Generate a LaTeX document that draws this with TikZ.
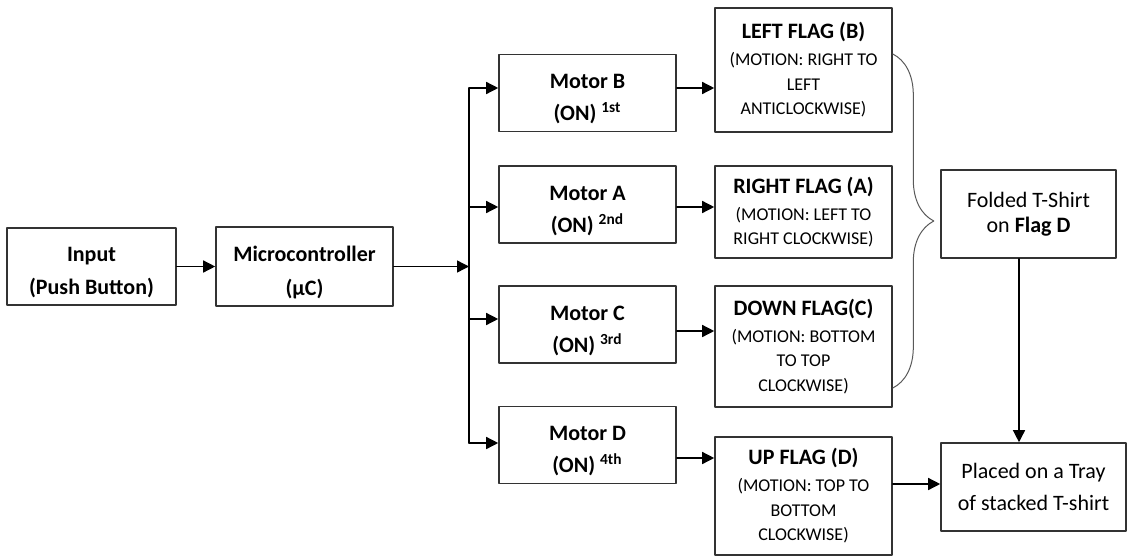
\documentclass[tikz,border=0pt]{standalone}
\usepackage{fontspec}
\setmainfont{Carlito}
\usepackage{pgf,tikz}
\usetikzlibrary{arrows.meta}
\usetikzlibrary{calc}
\usetikzlibrary{decorations.pathreplacing}
\newcommand{\topstrut}{\rule{0pt}{13.5pt}}

\begin{document}
\begin{tikzpicture}[x=0.5pt,y=-0.5pt,line cap=round,line join=round,>={Triangle[length=6pt,width=6pt]},
    box/.style={draw=black!80,line width=0.8pt,align=center,inner sep=0pt,font=\fontsize{11}{16.5}\selectfont},
    strong/.style={box,font=\fontsize{11}{16.5}\selectfont\bfseries},
    motor/.style={strong,minimum width=88.5pt,minimum height=38.5pt,font=\fontsize{11}{16}\selectfont\bfseries},
    flag/.style={box,minimum width=88.5pt,font=\fontsize{9}{12.25}\selectfont},
    con/.style={->,line width=0.7pt}]
        \useasboundingbox (0,0) rectangle (1127,556);
        \node[strong,minimum width=84.5pt,minimum height=38.5pt] (inp) at (91.5,266.5) {\topstrut Input\\(Push Button)};
        \node[strong,minimum width=88.5pt,minimum height=39.5pt,font=\fontsize{11}{17}\selectfont\bfseries] (mc) at (304.5,266.5) {\topstrut Microcontroller\\(µC)};
        \coordinate (bus) at (469,266.5);
        % motors
        \node[motor] (mB) at (587.5,93) {\topstrut Motor B\\(ON) \textsuperscript{1st}};
        \node[motor] (mA) at (587.5,204.5) {\topstrut Motor A\\(ON) \textsuperscript{2nd}};
        \node[motor] (mC) at (587.5,324.5) {\topstrut Motor C\\(ON) \textsuperscript{3rd}};
        \node[motor] (mD) at (587.5,445) {\topstrut Motor D\\(ON) \textsuperscript{4th}};
        % flags
        \node[flag,minimum height=62pt] (fB) at (803.5,70) {{\fontsize{11}{13}\selectfont\bfseries LEFT FLAG (B)}\\[1.25pt](MOTION: RIGHT TO\\LEFT\\ANTICLOCKWISE)};
        \node[flag,minimum height=46pt] (fA) at (803.5,212) {{\fontsize{11}{13}\selectfont\bfseries RIGHT FLAG (A)}\\[1.25pt](MOTION: LEFT TO\\RIGHT CLOCKWISE)};
        \node[flag,minimum height=60.5pt] (fC) at (803.5,346.5) {{\fontsize{11}{13}\selectfont\bfseries DOWN FLAG(C)}\\[1.25pt](MOTION: BOTTOM\\TO TOP\\CLOCKWISE)};
        \node[flag,minimum height=59pt] (fD) at (803.5,496) {{\fontsize{11}{13}\selectfont\bfseries UP FLAG (D)}\\[1.25pt](MOTION: TOP TO\\BOTTOM\\CLOCKWISE)};
        % output side
        \node[box,minimum width=87.5pt,minimum height=44pt,font=\fontsize{11}{12.5}\selectfont] (fold) at (1028.5,214) {Folded T-Shirt\\on \textbf{Flag D}};
        \node[box,minimum width=92.5pt,minimum height=44pt,font=\fontsize{11}{16}\selectfont] (tray) at (1033.5,487) {Placed on a Tray\\of stacked T-shirt};
        % connectors
        \draw[con] (inp) -- (mc);
        \draw[con] (mc) -- (bus);
        \draw[line width=0.7pt] ($(bus |- mB)+(0,-5)$) -- ($(bus |- mD)+(0,-2)$);
        \foreach \m/\f/\a/\b in {mB/fB/-5/-5, mA/fA/2.5/2.5, mC/fC/-5.5/6.5, mD/fD/-2/13}{
            \draw[con] ($(bus |- \m)+(0,\a)$) -- ($(\m.west)+(0,\a)$);
            \draw[con] ($(\m.east)+(0,\b)$) -- ($(\m.east -| \f.west)+(0,\b)$);
        }
        \draw[decorate,decoration={brace,amplitude=20.5pt},line width=0.5pt,color=black!65] ($(fB.east)+(0,-16)$) -- ($(fC.east)+(0,41.5)$);
        \draw[con] ($(fold.south)+(-9.5,0)$) -- ($(fold.south |- tray.north)+(-9.5,0)$);
        \draw[con] ($(fD.east)+(0,-12)$) -- ($(fD.east -| tray.west)+(0,-12)$);
      \end{tikzpicture}
\end{document}
